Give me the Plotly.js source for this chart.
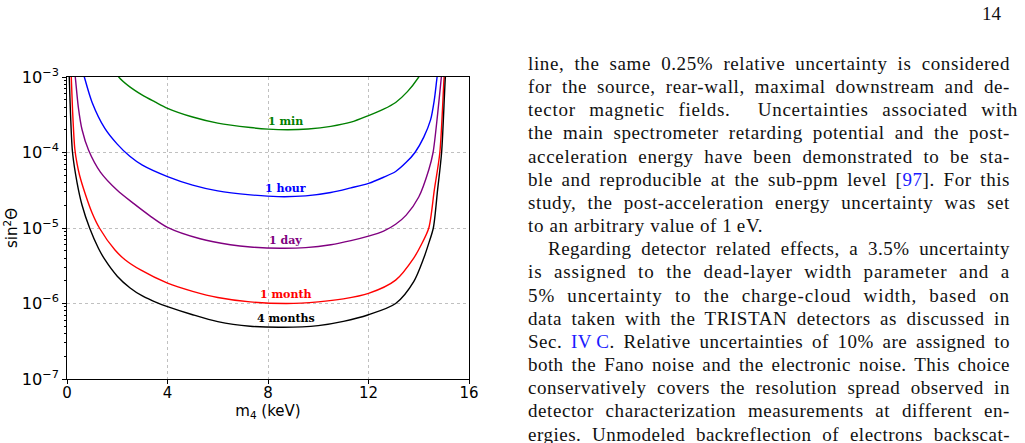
<!DOCTYPE html>
<html>
<head>
<meta charset="utf-8">
<script src="https://cdn.plot.ly/plotly-3.0.1.min.js"></script>
<style>
  html, body { margin: 0; padding: 0; background: #fff; }
  #page { position: relative; width: 1025px; height: 443px; overflow: hidden; }
  #chart { position: absolute; left: 0; top: 0; width: 1025px; height: 443px; }
  #pagenum { position: absolute; right: 24px; top: 3px; font-family: "Liberation Serif", serif; font-size: 19px; color: #111; }
  #text { position: absolute; left: 528px; top: 52px; width: 482px; font-family: "Liberation Serif", serif; font-size: 19px; line-height: 23.15px; color: #111; }
  #text > div { white-space: nowrap; }
  #text .ind { padding-left: 20px; }
  #text .ref { color: #1a1aff; }
</style>
</head>
<body>
<div id="page">
  <div id="chart"></div>
  <div id="pagenum">14</div>
  <div id="text">
    <div class="j"><span>line, the same 0.25% relative uncertainty is considered</span></div>
    <div class="j"><span>for the source, rear-wall, maximal downstream and de-</span></div>
    <div class="j"><span>tector magnetic fields.&nbsp; Uncertainties associated with</span></div>
    <div class="j"><span>the main spectrometer retarding potential and the post-</span></div>
    <div class="j"><span>acceleration energy have been demonstrated to be sta-</span></div>
    <div class="j"><span>ble and reproducible at the sub-ppm level [<span class="ref">97</span>]. For this</span></div>
    <div class="j"><span>study, the post-acceleration energy uncertainty was set</span></div>
    <div class="l"><span>to an arbitrary value of 1&#8201;eV.</span></div>
    <div class="j ind"><span>Regarding detector related effects, a 3.5% uncertainty</span></div>
    <div class="j"><span>is assigned to the dead-layer width parameter and a</span></div>
    <div class="j"><span>5% uncertainty to the charge-cloud width, based on</span></div>
    <div class="j"><span>data taken with the TRISTAN detectors as discussed in</span></div>
    <div class="j"><span>Sec. <span class="ref">IV&#8201;C</span>. Relative uncertainties of 10% are assigned to</span></div>
    <div class="j"><span>both the Fano noise and the electronic noise. This choice</span></div>
    <div class="j"><span>conservatively covers the resolution spread observed in</span></div>
    <div class="j"><span>detector characterization measurements at different en-</span></div>
    <div class="j"><span>ergies. Unmodeled backreflection of electrons backscat-</span></div>
  </div>
</div>
<script>
// Sensitivity contours in (m4, sin^2 theta) for increasing measurement times
var seriesNames = ['1 min', '1 hour', '1 day', '1 month', '4 months'];
var seriesColors = ['#008000', '#0000ff', '#800080', '#ff0000', '#000000'];

var m4_1min    = [1.80, 2.06, 2.5, 3.0, 3.5, 4.0, 5.0, 6.0, 7.3, 8.0, 8.8, 9.6, 10.5, 11.3, 12.0, 12.6, 13.08, 13.55, 14.0, 14.2];
var s2_1min    = [1.45e-3, 1.0e-3, 7.4e-4, 5.75e-4, 4.68e-4, 3.85e-4, 2.95e-4, 2.45e-4, 2.14e-4, 2.04e-4, 2.0e-4, 2.05e-4, 2.22e-4, 2.52e-4, 3.08e-4, 3.75e-4, 4.6e-4, 6.4e-4, 1.0e-3, 1.3e-3];

var m4_1hour   = [0.60, 0.69, 1.0, 1.5, 2.0, 2.5, 3.0, 4.0, 5.0, 6.0, 7.3, 8.4, 9.5, 10.5, 11.3, 12.0, 12.6, 13.08, 13.5, 13.85, 14.2, 14.47, 14.62, 14.73, 14.78];
var s2_1hour   = [1.3e-3, 1.0e-3, 4.6e-4, 2.1e-4, 1.29e-4, 8.9e-5, 6.8e-5, 4.8e-5, 3.7e-5, 3.1e-5, 2.75e-5, 2.6e-5, 2.66e-5, 2.95e-5, 3.4e-5, 3.9e-5, 4.7e-5, 5.6e-5, 7.4e-5, 1.0e-4, 1.6e-4, 2.7e-4, 5.0e-4, 1.0e-3, 1.3e-3];

var m4_1day    = [0.28, 0.33, 0.45, 0.6, 0.86, 1.33, 2.0, 2.66, 3.3, 4.0, 5.3, 6.5, 7.3, 8.5, 9.5, 10.5, 11.3, 12.0, 12.6, 13.08, 13.5, 14.0, 14.4, 14.57, 14.75, 14.9, 14.95];
var s2_1day    = [1.4e-3, 1.0e-3, 4.0e-4, 2.0e-4, 1.07e-4, 5.5e-5, 3.16e-5, 2.1e-5, 1.45e-5, 1.02e-5, 7.2e-6, 6.0e-6, 5.6e-6, 5.4e-6, 5.5e-6, 6.0e-6, 6.8e-6, 7.8e-6, 9.1e-6, 1.12e-5, 1.48e-5, 2.57e-5, 5.9e-5, 1.0e-4, 3.2e-4, 1.0e-3, 1.4e-3];

var m4_1month  = [0.14, 0.17, 0.22, 0.31, 0.4, 0.5, 0.73, 1.0, 1.29, 1.91, 2.31, 2.93, 4.0, 5.0, 6.0, 7.29, 8.75, 10.0, 11.0, 12.0, 13.08, 13.8, 14.1, 14.4, 14.62, 14.84, 15.01, 15.05];
var s2_1month  = [1.4e-3, 1.0e-3, 3.7e-4, 1.12e-4, 7.1e-5, 5.0e-5, 2.8e-5, 1.58e-5, 1.0e-5, 5.1e-6, 3.8e-6, 2.78e-6, 1.86e-6, 1.45e-6, 1.2e-6, 1.05e-6, 1.0e-6, 1.05e-6, 1.15e-6, 1.36e-6, 2.04e-6, 4.0e-6, 6.0e-6, 1.0e-5, 3.2e-5, 1.0e-4, 1.0e-3, 1.4e-3];

var m4_4months = [0.07, 0.09, 0.14, 0.22, 0.4, 0.6, 0.9, 1.25, 1.51, 2.0, 2.5, 3.0, 3.6, 4.0, 5.0, 6.0, 7.29, 8.6, 10.0, 11.0, 12.0, 13.08, 13.8, 14.2, 14.4, 14.58, 14.75, 14.91, 15.06, 15.1];
var s2_4months = [1.4e-3, 1.0e-3, 3.2e-4, 1.0e-4, 4.0e-5, 2.0e-5, 1.0e-5, 5.4e-6, 3.8e-6, 2.3e-6, 1.62e-6, 1.26e-6, 1.02e-6, 9.1e-7, 7.1e-7, 5.75e-7, 5.0e-7, 4.84e-7, 5.1e-7, 5.8e-7, 7.1e-7, 1.0e-6, 1.95e-6, 4.0e-6, 6.3e-6, 1.0e-5, 3.2e-5, 1.0e-4, 1.0e-3, 1.4e-3];

var xTicks = [0, 4, 8, 12, 16];

var xs = [m4_1min, m4_1hour, m4_1day, m4_1month, m4_4months];
var ys = [s2_1min, s2_1hour, s2_1day, s2_1month, s2_4months];

var traces = xs.map(function (x, i) {
  return {
    x: x, y: ys[i], type: 'scatter', mode: 'lines', name: seriesNames[i],
    line: { color: seriesColors[i], width: 1.4, shape: 'spline', smoothing: 0.8 },
    hoverinfo: 'skip'
  };
});

// curve labels sit just above each contour's minimum
var labelY = [-3.583, -4.474, -5.159, -5.887, -6.205];
var annotations = seriesNames.map(function (name, i) {
  return {
    x: 8.71, y: labelY[i], xref: 'x', yref: 'y', showarrow: false,
    text: '<b>' + name + '</b>',
    font: { family: 'DejaVu Serif', size: 11, color: seriesColors[i] },
    xanchor: 'center', yanchor: 'middle'
  };
});

var axisCommon = {
  showline: true, linecolor: '#000', linewidth: 1.3, mirror: true,
  ticks: 'outside', ticklen: 4, tickwidth: 1, tickcolor: '#000',
  showgrid: true, gridcolor: '#b0b0b0', gridwidth: 0.8, griddash: 'dot',
  zeroline: false
};

var layout = {
  width: 1025, height: 443, autosize: false,
  margin: { l: 67, r: 556, t: 77, b: 64 },
  paper_bgcolor: '#fff', plot_bgcolor: '#fff',
  showlegend: false,
  xaxis: Object.assign({}, axisCommon, {
    range: [0, 16], tickmode: 'array', tickvals: xTicks, ticktext: xTicks.map(String),
    ticklabelstandoff: -4,
    tickfont: { family: 'DejaVu Sans', size: 15, color: '#000' },
    title: { text: 'm<sub>4</sub> (keV)', font: { family: 'DejaVu Sans', size: 15, color: '#000' }, standoff: 0 }
  }),
  yaxis: Object.assign({}, axisCommon, {
    type: 'log', range: [-7, -3], dtick: 1, exponentformat: 'power',
    tickfont: { family: 'DejaVu Sans', size: 13, color: '#000' },
    minor: { ticks: 'outside', ticklen: 2, tickcolor: '#000', dtick: 'D1', showgrid: false },
    title: { text: 'sin<sup>2</sup>\u0398', font: { family: 'DejaVu Sans', size: 15, color: '#000' }, standoff: 0 }
  }),
  annotations: annotations
};

Plotly.newPlot('chart', traces, layout, { staticPlot: true, displayModeBar: false });

// justify each text line by spreading the slack over letters and word gaps
(function () {
  var col = document.getElementById('text');
  var full = col.clientWidth;
  var lines = col.querySelectorAll('div');
  var spacings = [];
  lines.forEach(function (div) {
    if (!div.classList.contains('j')) return;
    var span = div.firstElementChild;
    var avail = full - (div.classList.contains('ind') ? 20 : 0);
    var txt = span.textContent;
    var nChars = txt.length;
    var nSpaces = (txt.match(/ /g) || []).length;
    var slack = avail - span.getBoundingClientRect().width;
    var ls = 0.5 * slack / nChars;
    div.style.letterSpacing = ls + 'px';
    var rest = avail - span.getBoundingClientRect().width;
    div.style.wordSpacing = (nSpaces ? rest / nSpaces : 0) + 'px';
    spacings.push(ls);
  });
  var avg = spacings.reduce(function (a, b) { return a + b; }, 0) / spacings.length;
  lines.forEach(function (div) {
    if (div.classList.contains('l')) div.style.letterSpacing = avg + 'px';
  });
})();
</script>
</body>
</html>
